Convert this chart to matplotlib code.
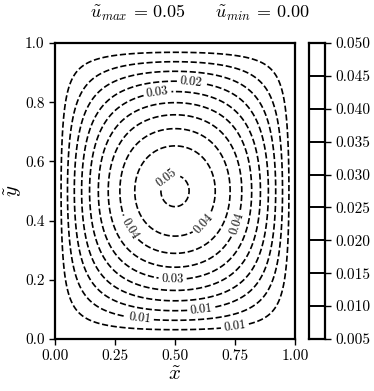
import numpy as np
import matplotlib
matplotlib.use("Agg")
import matplotlib.pyplot as plt

plt.rcParams['font.family'] = 'serif'
plt.rcParams['font.serif'] = ['cmr10']
plt.rcParams['mathtext.fontset'] = 'cm'
plt.rcParams['axes.formatter.use_mathtext'] = True

# ---- data ----
u_peak = 0.0507          # peak value of the field
levels = [0.005, 0.010, 0.015, 0.020, 0.025, 0.030, 0.035, 0.040, 0.045, 0.050]
x_ticks = [0.00, 0.25, 0.50, 0.75, 1.00]
y_ticks = [0.0, 0.2, 0.4, 0.6, 0.8, 1.0]

# label anchor guesses (data coords) for each level
label_pos = [(0.75, 0.037), (0.35, 0.057), (0.61, 0.098), (0.57, 0.885),
             (0.425, 0.848), (0.49, 0.196), (0.74, 0.395), (0.32, 0.378),
             (0.61, 0.40), (0.45, 0.56)]

# field model on the unit square
n = 301
xs = np.linspace(0, 1, n)
ys = np.linspace(0, 1, n)
X, Y = np.meshgrid(xs, ys)
U = u_peak * 4 * X * (1 - X) * np.sin(np.pi * Y)

fig = plt.figure(figsize=(3.74, 3.91), dpi=100)
ax = fig.add_axes([55/374, 52/391, 240/374, 296/391])
cax = fig.add_axes([309/374, 52/391, 16/374, 296/391])

cs = ax.contour(X, Y, U, levels=levels, colors='k', linestyles='dashed', linewidths=1.2)

# snap each anchor onto its own level's contour
manual = []
for i, pos in enumerate(label_pos):
    segs = [s for s in cs.allsegs[i] if len(s)]
    if not segs:
        continue
    pts = np.vstack(segs)
    d = (pts[:, 0] - pos[0])**2 + ((pts[:, 1] - pos[1]) * 296/240)**2
    manual.append(tuple(pts[np.argmin(d)]))
cs.clabel(levels, manual=manual, fmt='%.2f', fontsize=9, inline=True, inline_spacing=3)

ax.set_xlim(0, 1)
ax.set_ylim(0, 1)
ax.set_xticks(x_ticks)
ax.set_yticks(y_ticks)
ax.set_xticklabels([f'{v:.2f}' for v in x_ticks])
ax.set_yticklabels([f'{v:.1f}' for v in y_ticks])
ax.tick_params(labelsize=11, direction='out', length=4, width=1)
for s in ax.spines.values():
    s.set_linewidth(1.6)
ax.set_xlabel(r'$\tilde{x}$', fontsize=15, labelpad=2)
ax.set_ylabel(r'$\tilde{y}$', fontsize=15, labelpad=1)

# colorbar with solid lines at the levels
cax.set_xlim(0, 1)
cax.set_ylim(levels[0], levels[-1])
cax.hlines(levels, 0, 1, colors='k', linewidth=1.4)
cax.set_xticks([])
cax.yaxis.tick_right()
cax.set_yticks(levels)
cax.set_yticklabels([f'{v:.3f}' for v in levels])
cax.tick_params(labelsize=11, direction='out', length=4, width=1)
for s in cax.spines.values():
    s.set_linewidth(1.6)

fig.text(200/374, 1 - 13/391,
         r'$\tilde{u}_{max}\,=\,%.2f$     $\tilde{u}_{min}\,=\,%.2f$' % (U.max(), U.min()),
         ha='center', va='center', fontsize=13)

fig.savefig('out.png', dpi=100)
